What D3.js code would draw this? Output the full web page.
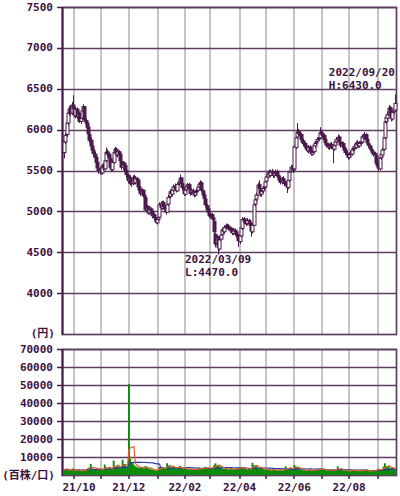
<!DOCTYPE html>
<html><head><meta charset="utf-8">
<script src="https://cdn.jsdelivr.net/npm/d3@7"></script>
<style>
html,body{margin:0;padding:0;background:#fff;}
svg{display:block;}
text{font-family:"DejaVu Sans Mono","Noto Sans CJK JP",monospace;font-weight:bold;font-size:11px;fill:#3a1240;}
</style></head><body>
<svg id="c" width="400" height="496"></svg>
<script>
// ---------- data ----------
const startDate = "2021-09-21", endDate = "2022-09-20";
const priceTicks = [4000, 4500, 5000, 5500, 6000, 6500, 7000, 7500];
const volumeTicks = [10000, 20000, 30000, 40000, 50000, 60000, 70000];
const monthLabels = ["21/10", "21/12", "22/02", "22/04", "22/06", "22/08"];
const priceUnit = "(円)";
const volumeUnit = "(百株/口)";

const open = [
5720,5850,5940,6080,6210,6260,6200,6300,
6260,6170,6250,6150,6200,6100,6140,6230,6280,6110,6080,6030,5940,5870,5800,5750,5700,5660,5600,5520,5480,
5520,5470,5560,5520,5620,5730,5700,5650,5540,5510,5600,5730,5760,5690,5730,5700,5610,5540,5590,5560,5500,5440,
5370,5410,5350,5340,5420,5350,5400,5380,5300,5270,5210,5260,5200,5170,5010,5060,4980,5030,4990,4940,4960,4920,4860,
4900,4930,5090,5040,5110,5060,5010,4990,5090,5180,5240,5210,5260,5310,5280,5250,5340,5360,5410,5340,5290,
5210,5270,5300,5330,5270,5230,5250,5230,5200,5240,5260,5300,5340,5350,5250,5200,5150,5070,5030,4980,
4940,4960,4920,4880,4720,4600,4690,4540,4660,4720,4780,4750,4810,4830,4820,4790,4760,4790,4730,4770,4750,4720,4690,
4630,4700,4790,4910,4870,4880,4850,4890,4860,4830,4750,4830,5090,5150,5200,5330,5270,5210,5250,5290,5300,
5370,5420,5480,5440,5490,5460,5440,5470,5490,5440,5420,5370,5360,5400,5370,5330,5330,5290,5380,5490,5530,5520,
5520,5780,5910,5980,5940,5940,5870,5860,5830,5780,5770,5740,5790,5740,5700,5730,5800,5840,5860,5890,5900,5970,
5950,5930,5880,5830,5810,5780,5800,5820,5790,5760,5810,5850,5870,5910,5840,5800,5830,5780,5760,5710,5690,
5660,5700,5700,5760,5770,5780,5840,5820,5800,5840,5850,5900,5920,5940,5880,5830,5800,5760,5740,5720,5710,5680,5590,
5560,5520,5660,5690,5760,5900,6100,6140,6190,6270,6190,6130,6220,6240];

const high = [
5880,5960,6110,6230,6290,6300,6340,6420,
6290,6280,6270,6240,6220,6170,6260,6310,6290,6140,6110,6050,5970,5900,5830,5780,5730,5690,5620,5560,5540,
5540,5580,5590,5650,5780,5760,5720,5670,5570,5630,5770,5790,5780,5760,5750,5710,5630,5610,5610,5580,5520,5460,
5430,5440,5380,5440,5450,5430,5420,5390,5320,5290,5280,5270,5230,5180,5080,5070,5050,5050,5010,4990,4980,4930,4930,
4950,5110,5120,5130,5130,5080,5040,5100,5200,5270,5270,5290,5330,5340,5310,5350,5390,5450,5420,5360,5300,
5290,5330,5350,5350,5290,5280,5280,5250,5260,5280,5320,5360,5380,5370,5270,5220,5170,5090,5050,5000,
4980,4980,4950,4890,4740,4710,4700,4680,4740,4800,4810,4830,4850,4850,4840,4810,4810,4800,4790,4790,4770,4740,4710,
4730,4830,4930,4930,4900,4900,4920,4910,4880,4840,4860,5100,5170,5230,5350,5380,5290,5270,5310,5330,5390,
5450,5500,5510,5510,5520,5490,5490,5510,5510,5460,5440,5400,5420,5430,5390,5360,5350,5400,5500,5570,5560,5550,
5810,5930,6080,6010,5980,5960,5900,5890,5850,5810,5800,5810,5810,5760,5750,5840,5860,5880,5910,5940,6030,6000,
5980,5950,5900,5860,5840,5830,5840,5850,5810,5840,5880,5910,5940,5930,5860,5860,5850,5800,5780,5740,5710,
5720,5740,5780,5800,5820,5860,5870,5850,5860,5880,5940,5950,5970,5960,5900,5850,5820,5790,5770,5750,5730,5700,5610,
5590,5680,5730,5780,5930,6120,6190,6220,6300,6290,6210,6240,6290,6430];

const low = [
5650,5820,5910,6050,6170,6170,6180,6220,
6150,6140,6130,6120,6080,6070,6120,6200,6100,6040,5990,5920,5840,5770,5720,5670,5620,5570,5500,5460,5450,
5450,5450,5500,5500,5600,5670,5630,5510,5490,5490,5580,5700,5670,5660,5660,5590,5510,5510,5520,5470,5410,5340,
5340,5320,5300,5320,5330,5330,5350,5270,5230,5190,5190,5170,5150,5000,4990,4960,4960,4960,4920,4920,4890,4850,4840,
4880,4920,5020,5020,5030,4990,4960,4980,5070,5160,5190,5190,5240,5250,5230,5240,5310,5340,5320,5260,5190,
5190,5240,5270,5250,5190,5200,5210,5170,5180,5210,5240,5280,5310,5240,5170,5130,5050,4990,4960,4920,
4910,4890,4870,4720,4560,4570,4470,4520,4640,4700,4730,4730,4780,4780,4770,4740,4740,4710,4710,4720,4680,4660,4565,
4600,4680,4770,4850,4840,4820,4830,4840,4800,4690,4730,4820,5060,5120,5190,5250,5180,5180,5220,5260,5280,
5350,5400,5420,5420,5440,5410,5410,5440,5410,5390,5350,5330,5330,5350,5310,5290,5225,5270,5360,5470,5490,5470,
5510,5760,5890,5920,5900,5850,5820,5800,5760,5740,5720,5710,5710,5680,5680,5710,5780,5810,5830,5860,5880,5920,
5900,5850,5810,5780,5760,5750,5770,5760,5590,5740,5790,5830,5850,5820,5780,5780,5760,5720,5690,5660,5630,
5640,5670,5680,5730,5740,5760,5790,5780,5780,5810,5830,5880,5890,5850,5810,5780,5740,5720,5690,5670,5650,5560,5530,
5490,5500,5630,5670,5740,5880,6070,6110,6170,6170,6100,6110,6190,6220];

const close = [
5850,5930,6080,6200,6250,6200,6300,6260,
6180,6250,6160,6200,6100,6140,6230,6280,6120,6080,6030,5950,5870,5800,5750,5710,5660,5600,5530,5500,5510,
5480,5550,5530,5620,5720,5700,5660,5540,5520,5600,5720,5760,5700,5730,5700,5620,5540,5580,5560,5500,5450,5380,
5400,5350,5340,5410,5360,5400,5380,5300,5260,5220,5250,5200,5180,5020,5050,4980,5020,4990,4950,4960,4920,4870,4900,
4920,5080,5050,5100,5060,5020,4990,5080,5170,5240,5220,5260,5300,5280,5260,5330,5360,5400,5350,5290,5220,
5260,5300,5320,5280,5220,5250,5240,5200,5230,5250,5300,5330,5350,5260,5200,5160,5080,5020,4990,4950,
4950,4920,4900,4750,4600,4680,4560,4650,4710,4770,4760,4800,4820,4810,4800,4770,4780,4740,4760,4750,4710,4700,4640,
4700,4800,4900,4880,4870,4850,4890,4870,4830,4760,4830,5080,5140,5200,5320,5280,5220,5240,5280,5300,5360,
5420,5470,5450,5480,5470,5440,5460,5480,5440,5420,5380,5360,5390,5380,5340,5320,5300,5380,5480,5540,5520,5500,
5790,5900,5970,5950,5930,5880,5850,5830,5790,5770,5750,5780,5740,5710,5720,5810,5830,5850,5880,5900,5960,5950,
5930,5880,5840,5810,5790,5800,5810,5790,5770,5810,5850,5880,5900,5850,5810,5830,5790,5750,5720,5690,5660,
5690,5710,5750,5770,5790,5830,5820,5810,5830,5850,5910,5920,5930,5880,5840,5810,5770,5750,5720,5700,5690,5590,5560,
5530,5650,5700,5750,5900,6090,6150,6180,6260,6200,6140,6210,6250,6320];

const volume = [
2800,3200,3500,3000,2600,2400,3000,3600,
2800,2500,2300,2600,2400,2200,2700,3000,2800,2600,3400,3800,4200,6200,3600,3200,3000,3500,4000,3300,3000,
2800,3200,3000,5800,4200,3600,3000,4500,3800,3200,8000,5000,4200,5600,4400,3800,4500,8500,6000,6000,4200,5200,
50500,9000,7000,6500,5500,4800,4500,4200,4000,3800,4500,4000,3600,5000,4200,3800,3500,3200,3000,2800,2600,2400,2800,
3200,4500,3800,4000,3600,3400,3800,6500,5000,5500,4200,4000,4600,4200,3800,3600,4200,5000,4200,3600,3400,
3400,3600,3200,3000,3400,3200,3000,2800,3000,3200,3600,4000,3400,3200,3800,4200,4500,4000,3600,3400,
3800,4000,4200,5500,6500,5000,5500,4800,4200,3800,3500,3200,3600,3400,3000,3200,3800,3400,3000,3200,3600,3400,3800,
4200,3800,4500,3600,3400,3200,3000,3400,3200,3600,6800,5500,4600,5400,4000,3600,3400,4500,3400,3200,3000,
2800,3000,3200,2800,2600,2900,3100,2800,2600,2500,2800,3000,2700,2600,3000,4800,3600,3200,3800,4200,3600,3200,
5500,4800,4200,3600,3200,3000,2800,2600,2800,2600,2500,2800,3000,2600,2400,2800,3000,2800,3200,3000,3600,3400,
3200,2800,3000,2600,2400,2800,2600,2400,3000,2800,2600,3000,4800,3400,3000,2800,2600,2400,2200,2400,2600,
2400,2200,2600,2800,2600,2400,2200,2000,2200,2400,2600,2800,3000,2600,2400,2200,2000,2200,2400,2600,2400,2800,3000,
3400,3000,2800,3200,4600,6500,4800,4200,5000,3800,3600,4000,3400,3600];

const highMark = {date: "2022/09/20", label: "H:6430.0", value: 6430};
const lowMark = {date: "2022/03/09", label: "L:4470.0", value: 4470};

// ---------- build ----------
const parse = d3.timeParse("%Y-%m-%d");
const dates = d3.timeDay.range(parse(startDate), d3.timeDay.offset(parse(endDate), 1))
  .filter(d => d.getDay() !== 0 && d.getDay() !== 6);
const fmt = d3.timeFormat("%Y/%m/%d");
const rows = dates.map((d, i) => ({d, o: open[i], h: high[i], l: low[i], c: close[i], v: volume[i]}));

const svg = d3.select("#c");
const L = 62, R = 396;
const PT = 7, PB = 334, VT = 349, VB = 475;
const gridH = "#5e3e5e", gridV = "#c4c4c4", dark = "#4a1a4a";

const x = d3.scalePoint().domain(d3.range(rows.length)).range([64, 395]);
const y = d3.scaleLinear().domain([3500, 7500]).range([PB, PT]);
const yv = d3.scaleLinear().domain([0, 70000]).range([VB, VT]);

const monthStarts = [];
rows.forEach((r, i) => {
  if (i > 0 && r.d.getMonth() !== rows[i - 1].d.getMonth()) monthStarts.push(i);
});
const mKey = d3.timeFormat("%y/%m");

function panel(top, bottom, yScale, ticks) {
  const g = svg.append("g");
  g.selectAll("line.v").data(monthStarts).join("line")
    .attr("x1", i => Math.round(x(i))).attr("x2", i => Math.round(x(i)))
    .attr("y1", top).attr("y2", bottom)
    .attr("stroke", gridV).attr("stroke-width", 2);
  g.selectAll("line.h").data(ticks).join("line")
    .attr("x1", L).attr("x2", R)
    .attr("y1", t => Math.round(yScale(t)) + 0.5).attr("y2", t => Math.round(yScale(t)) + 0.5)
    .attr("stroke", gridH).attr("stroke-width", 1.7);
  g.append("rect").attr("x", L + 0.5).attr("y", top + 0.5)
    .attr("width", R - L).attr("height", bottom - top)
    .attr("fill", "none").attr("stroke", gridH).attr("stroke-width", 1.7);
  g.append("line").attr("x1", L + 0.5).attr("x2", L + 0.5).attr("y1", top).attr("y2", bottom + 1)
    .attr("stroke", dark).attr("stroke-width", 2);
  g.selectAll("line.t").data(ticks).join("line")
    .attr("x1", 57).attr("x2", L)
    .attr("y1", t => Math.round(yScale(t)) + 0.5).attr("y2", t => Math.round(yScale(t)) + 0.5)
    .attr("stroke", dark).attr("stroke-width", 1.5);
  g.selectAll("text.t").data(ticks).join("text")
    .attr("x", 53).attr("y", t => yScale(t))
    .attr("text-anchor", "end").attr("dominant-baseline", "central")
    .text(t => t);
}

panel(PT, PB, y, priceTicks);
panel(VT, VB, yv, volumeTicks);

svg.append("text").attr("x", 55).attr("y", PB - 1).attr("text-anchor", "end")
  .attr("dominant-baseline", "central").text(priceUnit);
svg.append("text").attr("x", 55).attr("y", VB).attr("text-anchor", "end")
  .attr("dominant-baseline", "central").text(volumeUnit);

svg.selectAll("line.mt").data(monthStarts).join("line")
  .attr("x1", i => Math.round(x(i))).attr("x2", i => Math.round(x(i)))
  .attr("y1", VB).attr("y2", VB + 4)
  .attr("stroke", dark).attr("stroke-width", 1.5);
const labelIdx = monthStarts.filter(i => monthLabels.includes(mKey(rows[i].d)));
svg.selectAll("text.m").data(labelIdx).join("text")
  .attr("x", i => Math.max(x(i), 79)).attr("y", 487)
  .attr("text-anchor", "middle").attr("dominant-baseline", "central")
  .text(i => mKey(rows[i].d));

// candles
const cg = svg.append("g");
rows.forEach((r, i) => {
  const cx = Math.round(x(i)) + 0.5;
  cg.append("line").attr("x1", cx).attr("x2", cx)
    .attr("y1", y(r.h)).attr("y2", y(r.l))
    .attr("stroke", dark).attr("stroke-width", 1);
  const top = y(Math.max(r.o, r.c)), bot = y(Math.min(r.o, r.c));
  cg.append("rect").attr("x", cx - 1.5).attr("y", top)
    .attr("width", 3).attr("height", Math.max(1, bot - top))
    .attr("fill", r.c >= r.o ? "#ffffff" : dark)
    .attr("stroke", dark).attr("stroke-width", 1);
});

// volume bars
const step = x.step();
svg.append("g").selectAll("rect").data(rows).join("rect")
  .attr("x", (r, i) => x(i) - step / 2 - 0.3)
  .attr("width", step + 0.6)
  .attr("y", r => yv(r.v)).attr("height", r => VB - yv(r.v))
  .attr("fill", "#0a8a0a");

// volume moving averages
function ma(n) {
  return rows.map((r, i) => d3.mean(volume.slice(Math.max(0, i - n + 1), i + 1)));
}
const line = d3.line().x((v, i) => x(i)).y(v => yv(v));
svg.append("path").attr("d", line(ma(25))).attr("fill", "none")
  .attr("stroke", "#2838a8").attr("stroke-width", 1.2);
svg.append("path").attr("d", line(ma(5))).attr("fill", "none")
  .attr("stroke", "#d8602a").attr("stroke-width", 1.2);

// annotations
const lo = rows.findIndex(r => fmt(r.d) === lowMark.date);
const ha = svg.append("g");
ha.append("text").attr("x", 395).attr("y", y(highMark.value) - 22).attr("text-anchor", "end")
  .attr("dominant-baseline", "central").text(highMark.date);
ha.append("text").attr("x", 395).attr("y", y(highMark.value) - 9).attr("text-anchor", "end")
  .attr("dominant-baseline", "central").text(highMark.label)
  .attr("dx", -(highMark.date.length - highMark.label.length) * 6.62);
ha.append("text").attr("x", x(lo)).attr("y", y(lowMark.value) + 4.5).attr("text-anchor", "middle")
  .attr("dominant-baseline", "central").text(lowMark.date);
ha.append("text").attr("x", x(lo) - 33).attr("y", y(lowMark.value) + 17.5).attr("text-anchor", "start")
  .attr("dominant-baseline", "central").text(lowMark.label);
</script>
</body></html>
